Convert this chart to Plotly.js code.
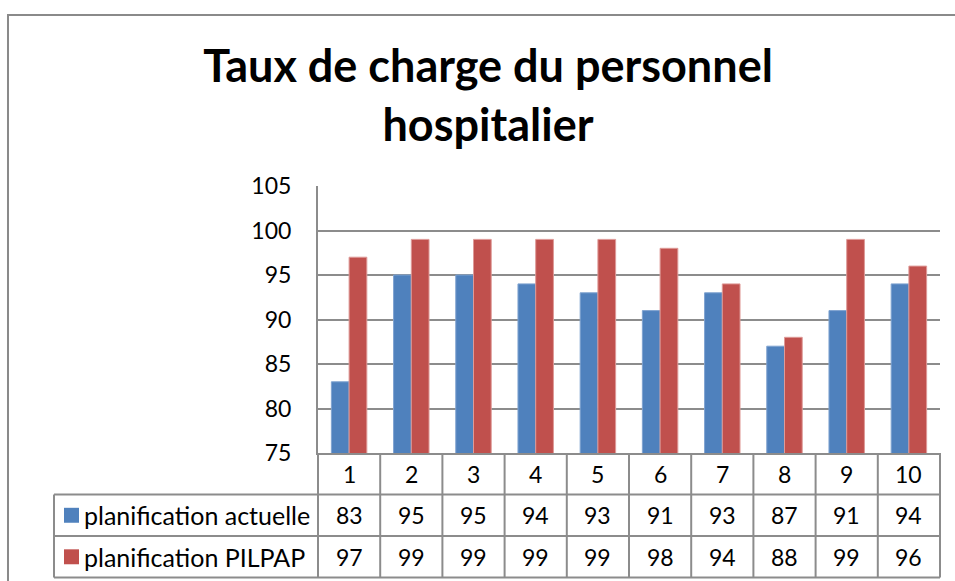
<!DOCTYPE html>
<html>
<head>
<meta charset="utf-8">
<script src="https://cdn.plot.ly/plotly-3.0.1.min.js"></script>
<style>html,body{margin:0;padding:0;background:#fff;}#chart{width:955px;height:581px;}</style>
</head>
<body>
<div id="chart"></div>
<script>
// ---- data ----
const categories = [1, 2, 3, 4, 5, 6, 7, 8, 9, 10];
const actuelle = [83, 95, 95, 94, 93, 91, 93, 87, 91, 94];
const pilpap = [97, 99, 99, 99, 99, 98, 94, 88, 99, 96];
const seriesNames = ['planification actuelle', 'planification PILPAP'];
const yTicks = [75, 80, 85, 90, 95, 100, 105];
const chartTitle = 'Taux de charge du personnel<br>hospitalier';

// ---- styles ----
const colors = ['#4F81BD', '#C0504D'];
const edgeColors = ['#7FA3D0', '#DE9A98'];
const gridColor = '#8c8c8c';
const fontFam = 'Lato, "Open Sans", sans-serif';
const seriesValues = [actuelle, pilpap];

const traces = seriesValues.map((vals, k) => ({
  type: 'bar',
  x: categories,
  y: vals,
  name: seriesNames[k],
  marker: {color: colors[k], line: {color: edgeColors[k], width: 1}},
  hoverinfo: 'x+y+name'
}));

// table geometry in paper units (plot area = paper 0..1)
const legendLeft = -0.4244;
const rowH = 0.1555;
const rowEdges = [0, -rowH, -2 * rowH, -3 * rowH];
const n = categories.length;

const shapes = [];
const lineStyle = {color: gridColor, width: 2};
// outer chart border
shapes.push({type: 'rect', xref: 'paper', yref: 'paper', x0: -0.4984, x1: 1.1, y0: -0.7, y1: 1.6404,
  line: {color: '#8a8a8a', width: 2}, fillcolor: 'rgba(0,0,0,0)', layer: 'below'});
// horizontal table lines
for (let r = 1; r < rowEdges.length; r++) {
  shapes.push({type: 'line', xref: 'paper', yref: 'paper', x0: legendLeft, x1: 1, y0: rowEdges[r], y1: rowEdges[r], line: lineStyle});
}
// vertical lines between categories
for (let i = 0; i <= n; i++) {
  shapes.push({type: 'line', xref: 'paper', yref: 'paper', x0: i / n, x1: i / n,
    y0: rowEdges[3], y1: 0, line: lineStyle});
}
// legend column left border
shapes.push({type: 'line', xref: 'paper', yref: 'paper', x0: legendLeft, x1: legendLeft, y0: rowEdges[1], y1: rowEdges[3], line: lineStyle});

const annotations = [];
const cellFont = {family: fontFam, size: 23, color: '#000'};
const legendFont = {family: fontFam, size: 25, color: '#000'};
// header row: category numbers
categories.forEach(c => annotations.push({xref: 'x', yref: 'paper', x: c, y: (rowEdges[0] + rowEdges[1]) / 2,
  text: String(c), showarrow: false, font: cellFont, xanchor: 'center', yanchor: 'middle'}));
// data rows
seriesValues.forEach((vals, k) => {
  const yc = (rowEdges[k + 1] + rowEdges[k + 2]) / 2;
  vals.forEach((v, j) => annotations.push({xref: 'x', yref: 'paper', x: categories[j], y: yc,
    text: String(v), showarrow: false, font: cellFont, xanchor: 'center', yanchor: 'middle'}));
  // legend key
  shapes.push({type: 'rect', xref: 'paper', yref: 'paper', x0: -0.4084, x1: -0.3842,
    y0: yc - 0.028, y1: yc + 0.028, fillcolor: colors[k], line: {width: 0}});
  annotations.push({xref: 'paper', yref: 'paper', x: -0.3795, y: yc, text: seriesNames[k], showarrow: false,
    font: legendFont, xanchor: 'left', yanchor: 'middle'});
});

const layout = {
  width: 955, height: 581,
  margin: {l: 318, r: 15, t: 186, b: 128, pad: 0},
  paper_bgcolor: '#fff', plot_bgcolor: '#fff',
  title: {text: chartTitle, x: 488 / 955, xref: 'container', xanchor: 'center',
    y: 1 - 82 / 581, yref: 'container', yanchor: 'top',
    font: {family: fontFam, size: 45, color: '#000', weight: 'bold'}},
  showlegend: false,
  barmode: 'group', bargap: 0.43, bargroupgap: 0,
  xaxis: {range: [0.5, 10.5], showticklabels: false, showgrid: false, zeroline: false,
    showline: true, linecolor: gridColor, linewidth: 2, ticks: '', fixedrange: true},
  yaxis: {range: [75, 105], tickvals: yTicks, ticktext: yTicks.map(String), showgrid: true,
    gridcolor: gridColor, gridwidth: 2, zeroline: false, showline: true, linecolor: gridColor, linewidth: 2,
    ticks: '', ticklabelstandoff: 20, tickfont: {family: fontFam, size: 23, color: '#000'}, fixedrange: true},
  shapes: shapes,
  annotations: annotations
};

Plotly.newPlot('chart', traces, layout, {displayModeBar: false, staticPlot: true});
</script>
</body>
</html>
